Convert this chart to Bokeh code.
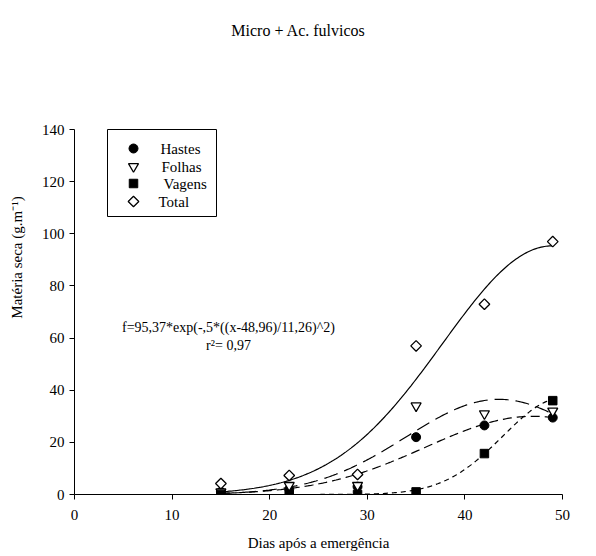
import numpy as np
from bokeh.plotting import figure
from bokeh.models import Label, Range1d, FixedTicker
from bokeh.embed import file_html
from bokeh.resources import INLINE

# ---- data ----
dias = [15, 22, 29, 35, 42, 49]
hastes = [1.0, 2.0, 3.0, 22.0, 26.5, 29.5]
folhas = [1.0, 3.5, 3.5, 34.0, 31.0, 32.0]
vagens = [0.0, 0.0, 0.0, 1.0, 15.7, 36.0]
total = [4.2, 7.3, 7.7, 57.0, 73.0, 97.0]
series_names = ["Hastes", "Folhas", "Vagens", "Total"]

# fitted gaussian curves: a*exp(-0.5*((x-x0)/b)^2)
fit_total = [95.37, 48.96, 11.26]
fit_folhas = [36.5, 43.5, 9.5]
fit_hastes = [30.0, 47.0, 11.0]
fit_vagens = [37.0, 50.0, 6.1]

x_ticks = [0, 10, 20, 30, 40, 50]
y_ticks = [0, 20, 40, 60, 80, 100, 120, 140]

FONT = "Liberation Serif"

def gauss(params, x):
    a, x0, b = params
    return a * np.exp(-0.5 * ((x - x0) / b) ** 2)

xs = np.linspace(dias[0], dias[-1], 200)

# frame: 488 x 474 px; y axis 0..140 spans 365 px, extra room above for title
FW, FH = 488, 474
Y_TOP = 140 * FH / 365.0

p = figure(width=588, height=556, output_backend="svg", toolbar_location=None,
           x_range=Range1d(0, 50), y_range=Range1d(0, Y_TOP),
           min_border_left=74, min_border_right=26, min_border_top=20, min_border_bottom=62)
p.extra_x_ranges = {"px": Range1d(0, FW)}
p.extra_y_ranges = {"px": Range1d(0, FH)}
p.outline_line_color = None
p.xgrid.visible = False
p.ygrid.visible = False
p.background_fill_color = "white"
p.border_fill_color = "white"

for ax in (p.xaxis[0], p.yaxis[0]):
    ax.axis_line_color = "black"
    ax.major_tick_line_color = "black"
    ax.minor_tick_line_color = None
    ax.major_tick_in = 0
    ax.major_tick_out = 5
    ax.major_label_text_font = FONT
    ax.major_label_text_font_size = "15px"
    ax.major_label_text_color = "black"
    ax.axis_label_text_font = FONT
    ax.axis_label_text_font_size = "15px"
    ax.axis_label_text_font_style = "normal"
    ax.axis_label_text_color = "black"

p.xaxis.ticker = FixedTicker(ticks=x_ticks)
p.yaxis.ticker = FixedTicker(ticks=y_ticks)
p.yaxis.bounds = (0, 140)
p.xaxis.axis_label = "Dias após a emergência"
p.yaxis.axis_label = "Matéria seca (g.m⁻¹)"
p.xaxis.major_label_standoff = 10
p.xaxis.axis_label_standoff = 12
p.yaxis.major_label_standoff = 5
p.yaxis.axis_label_standoff = 14

# curves
p.line(xs, gauss(fit_total, xs), line_color="black", line_width=1.2)
p.line(xs, gauss(fit_folhas, xs), line_color="black", line_width=1.2, line_dash="14 7")
p.line(xs, gauss(fit_hastes, xs), line_color="black", line_width=1.2, line_dash="9 5")
p.line(xs, gauss(fit_vagens, xs), line_color="black", line_width=1.2, line_dash="5 4")

# marker styles
styles = [
    dict(marker="circle", size=9, fill_color="black", line_color="black"),
    dict(marker="inverted_triangle", size=10, fill_color="white", line_color="black", line_width=1.3),
    dict(marker="square", size=8.5, fill_color="black", line_color="black"),
    dict(marker="square", angle=np.pi / 4, size=7.5, fill_color="white", line_color="black", line_width=1.3),
]

for vals, st in zip([hastes, folhas, vagens, total], styles):
    p.scatter(dias, vals, **st)

# legend (drawn in frame pixel coordinates)
p.quad(left=[33], right=[142], bottom=[278], top=[365], fill_color="white",
       line_color="black", line_width=1, x_range_name="px", y_range_name="px")
leg_y = [346, 328, 311, 293]
leg_tx = [86, 87, 89, 84]
for name, st, ly, tx in zip(series_names, styles, leg_y, leg_tx):
    p.scatter([59], [ly], x_range_name="px", y_range_name="px", **st)
    p.add_layout(Label(x=tx, y=ly, x_units="screen", y_units="screen", text=name,
                       text_align="left", text_baseline="middle", text_font=FONT,
                       text_font_size="15px", text_color="black"))

# equation
p.add_layout(Label(x=154, y=167, x_units="screen", y_units="screen",
                   text="f=95,37*exp(-,5*((x-48,96)/11,26)^2)", text_align="center",
                   text_baseline="middle", text_font=FONT, text_font_size="14px",
                   text_color="black"))
p.add_layout(Label(x=154, y=149, x_units="screen", y_units="screen",
                   text="r²= 0,97", text_align="center",
                   text_baseline="middle", text_font=FONT, text_font_size="14px",
                   text_color="black"))

# title and panel marker
p.add_layout(Label(x=224, y=464, x_units="screen", y_units="screen",
                   text="Micro + Ac. fulvicos", text_align="center",
                   text_baseline="middle", text_font=FONT, text_font_size="16px",
                   text_color="black"))
p.add_layout(Label(x=507, y=380, x_units="screen", y_units="screen",
                   text="III", text_align="center",
                   text_baseline="middle", text_font=FONT, text_font_size="13px",
                   text_color="black"))

open("out.html", "w").write(file_html(p, INLINE))
